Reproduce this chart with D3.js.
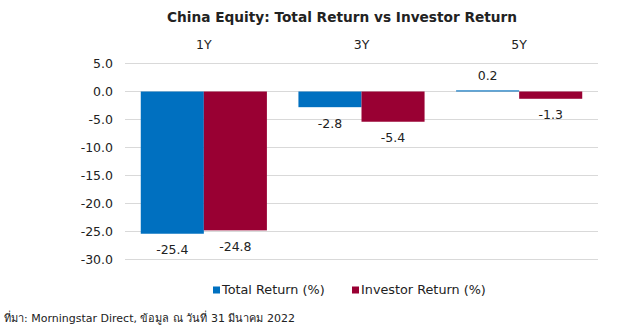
<!DOCTYPE html>
<html>
<head>
<meta charset="utf-8">
<script src="https://cdn.jsdelivr.net/npm/d3@7"></script>
<style>
  html, body { margin: 0; padding: 0; background: #fff; }
  svg { display: block; }
</style>
</head>
<body>
<svg id="chart" width="618" height="329"></svg>
<script>
// Periods and return series (%)
const periods = ["1Y", "3Y", "5Y"];
const totalReturn = [-25.4, -2.8, 0.2];
const investorReturn = [-24.8, -5.4, -1.3];
const seriesNames = ["Total Return (%)", "Investor Return (%)"];
const seriesColors = ["#0070C0", "#990033"];
const yTicks = [5, 0, -5, -10, -15, -20, -25, -30];
const titleText = "China Equity: Total Return vs Investor Return";
const sourceText = "ที่มา: Morningstar Direct, ข้อมูล ณ วันที่ 31 มีนาคม 2022";

const svg = d3.select("#chart");
const font = "Tahoma, 'DejaVu Sans', Verdana, sans-serif";

// Plain hyphen for negative numbers
const fmt = d3.formatLocale({ decimal: ".", thousands: ",", grouping: [3], currency: ["", ""], minus: "-" }).format(".1f");

const plot = { left: 125, right: 598, top: 63.5, bottom: 259.5 };

const x = d3.scaleBand().domain(periods).range([plot.left, plot.right]).paddingInner(0).paddingOuter(0);
const xSeries = d3.scaleBand().domain([0, 1]).range([0, x.bandwidth()]).paddingOuter(0.25).paddingInner(0);
const y = d3.scaleLinear().domain([-30, 5]).range([plot.bottom, plot.top]);

// Gridlines
svg.append("g")
  .selectAll("line")
  .data(yTicks)
  .join("line")
  .attr("x1", plot.left).attr("x2", plot.right)
  .attr("y1", d => y(d)).attr("y2", d => y(d))
  .attr("stroke", "#d9d9d9").attr("stroke-width", 1)
  .attr("shape-rendering", "crispEdges");

// Y axis labels
const yAxis = d3.axisLeft(y).tickValues(yTicks).tickFormat(fmt).tickSize(0).tickPadding(12);
const yg = svg.append("g").attr("transform", `translate(${plot.left},0)`).call(yAxis);
yg.select(".domain").remove();
yg.selectAll("text").attr("font-family", font).attr("font-size", 12.5).attr("fill", "#222");

// Period labels along the top
svg.append("g")
  .selectAll("text")
  .data(periods)
  .join("text")
  .attr("x", d => x(d) + x.bandwidth() / 2)
  .attr("y", 45)
  .attr("dy", "0.35em")
  .attr("text-anchor", "middle")
  .attr("font-family", font).attr("font-size", 12.5).attr("fill", "#222")
  .text(d => d);

// Bars
const rows = periods.map((p, i) => ({ period: p, values: [totalReturn[i], investorReturn[i]] }));
const groups = svg.append("g").selectAll("g")
  .data(rows)
  .join("g")
  .attr("transform", d => `translate(${x(d.period)},0)`);

groups.selectAll("rect")
  .data(d => d.values.map((v, s) => ({ v, s })))
  .join("rect")
  .attr("x", d => xSeries(d.s))
  .attr("width", xSeries.bandwidth())
  .attr("y", d => Math.min(y(d.v), y(0)))
  .attr("height", d => Math.abs(y(d.v) - y(0)))
  .attr("fill", d => seriesColors[d.s]);

// Value labels
groups.selectAll("text")
  .data(d => d.values.map((v, s) => ({ v, s })))
  .join("text")
  .attr("x", d => xSeries(d.s) + xSeries.bandwidth() / 2)
  .attr("y", d => d.v < 0 ? y(d.v) + 16 : y(d.v) - 15)
  .attr("dy", "0.35em")
  .attr("text-anchor", "middle")
  .attr("font-family", font).attr("font-size", 12.5).attr("fill", "#222")
  .text(d => fmt(d.v));

// Title
svg.append("text")
  .attr("x", 342).attr("y", 17)
  .attr("dy", "0.35em")
  .attr("text-anchor", "middle")
  .attr("font-family", font).attr("font-size", 13.7).attr("font-weight", "bold").attr("fill", "#222")
  .text(titleText);

// Legend
const legendX = [213, 352];
const legend = svg.append("g").selectAll("g")
  .data(seriesNames)
  .join("g")
  .attr("transform", (d, i) => `translate(${legendX[i]},290)`);
legend.append("rect")
  .attr("x", 0).attr("y", -3.5).attr("width", 7).attr("height", 7)
  .attr("fill", (d, i) => seriesColors[i]);
legend.append("text")
  .attr("x", 9).attr("y", 0).attr("dy", "0.35em")
  .attr("font-family", font).attr("font-size", 12.8).attr("fill", "#222")
  .text(d => d);

// Source note
svg.append("text")
  .attr("x", 4).attr("y", 318).attr("dy", "0.35em")
  .attr("font-family", font).attr("font-size", 11).attr("fill", "#222")
  .text(sourceText);
</script>
</body>
</html>
